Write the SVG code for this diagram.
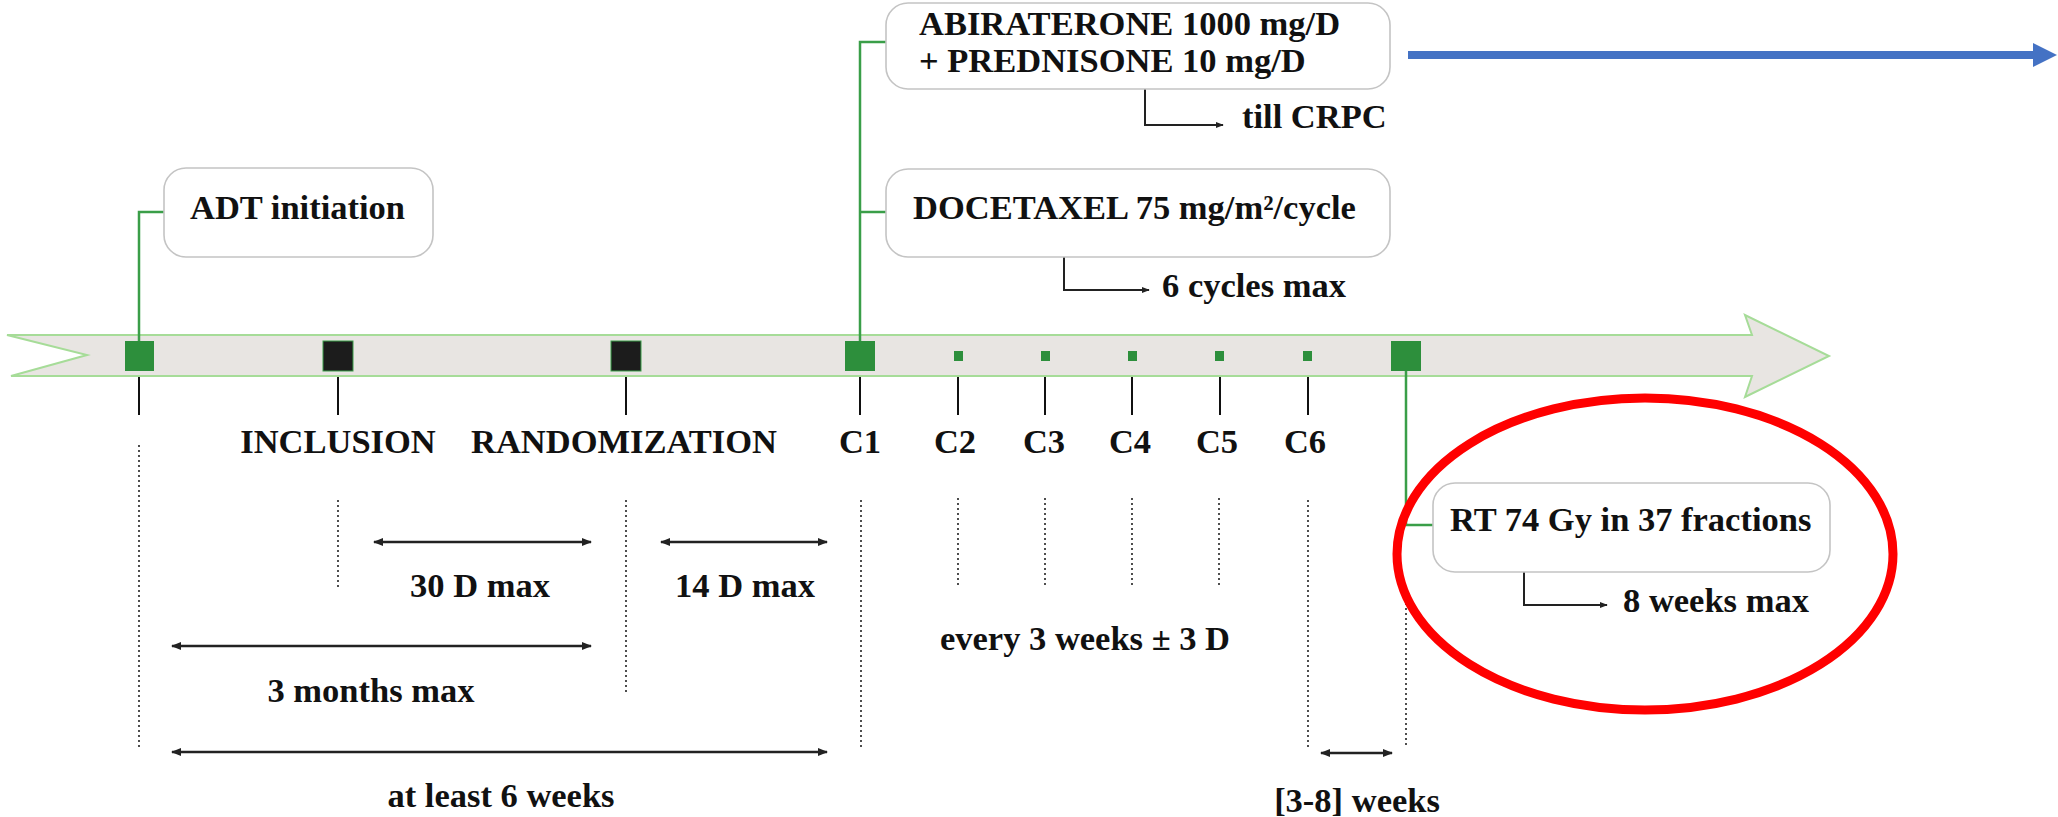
<svg xmlns="http://www.w3.org/2000/svg" width="2058" height="817" viewBox="0 0 2058 817">
<style>
.t{font-family:"Liberation Serif","Times New Roman",serif;font-weight:bold;font-size:34.5px;fill:#111}
.m{text-anchor:middle}
.box{fill:#fff;stroke:#c4c4c4;stroke-width:1.6}
.g{fill:none;stroke:#3a9e48;stroke-width:2.5}
.tick{stroke:#111;stroke-width:2}
.dot{stroke:#222;stroke-width:1.6;stroke-dasharray:2 3}
.dbl{stroke:#222;stroke-width:2.5;marker-start:url(#ah);marker-end:url(#ah)}
.lead{fill:none;stroke:#222;stroke-width:2;marker-end:url(#ah)}
.mk{fill:#2d8f3c}
.bk{fill:#1c1c1c;stroke:#3a9e48;stroke-width:1}
</style>
<defs>
<marker id="ah" viewBox="0 0 10 10" refX="9" refY="5" markerWidth="4" markerHeight="4" orient="auto-start-reverse" markerUnits="strokeWidth">
<path d="M0,1 L10,5 L0,9 z" fill="#222"/>
</marker>
</defs>
<rect width="2058" height="817" fill="#fff"/>

<g id="timeline">
<polygon points="7,335 1752,335 1745,315 1829,356 1745,397 1752,376 11,376 87,355" fill="#e8e5e2" stroke="#a6dc98" stroke-width="2"/>
<rect class="mk" x="125" y="341" width="29" height="30"/>
<rect class="bk" x="323" y="341" width="30" height="30"/>
<rect class="bk" x="611" y="341" width="30" height="30"/>
<rect class="mk" x="845" y="341" width="30" height="30"/>
<rect class="mk" x="954" y="351" width="9" height="10"/>
<rect class="mk" x="1041" y="351" width="9" height="10"/>
<rect class="mk" x="1128" y="351" width="9" height="10"/>
<rect class="mk" x="1215" y="351" width="9" height="10"/>
<rect class="mk" x="1303" y="351" width="9" height="10"/>
<rect class="mk" x="1391" y="341" width="30" height="30"/>
</g>

<g id="connectors">
<path class="g" d="M139 341 V212 H164"/>
<path class="g" d="M860 341 V42 H886 M860 212 H886"/>
<path class="g" d="M1406 371 V525 H1433"/>
<line class="tick" x1="139" y1="377" x2="139" y2="415"/>
<line class="tick" x1="338" y1="377" x2="338" y2="415"/>
<line class="tick" x1="626" y1="377" x2="626" y2="415"/>
<line class="tick" x1="860" y1="377" x2="860" y2="415"/>
<line class="tick" x1="958" y1="377" x2="958" y2="415"/>
<line class="tick" x1="1045" y1="377" x2="1045" y2="415"/>
<line class="tick" x1="1132" y1="377" x2="1132" y2="415"/>
<line class="tick" x1="1220" y1="377" x2="1220" y2="415"/>
<line class="tick" x1="1308" y1="377" x2="1308" y2="415"/>
<line class="dot" x1="139" y1="445" x2="139" y2="748"/>
<line class="dot" x1="338" y1="500" x2="338" y2="588"/>
<line class="dot" x1="626" y1="500" x2="626" y2="693"/>
<line class="dot" x1="861" y1="500" x2="861" y2="748"/>
<line class="dot" x1="958" y1="498" x2="958" y2="585"/>
<line class="dot" x1="1045" y1="498" x2="1045" y2="585"/>
<line class="dot" x1="1132" y1="498" x2="1132" y2="585"/>
<line class="dot" x1="1219" y1="498" x2="1219" y2="585"/>
<line class="dot" x1="1308" y1="500" x2="1308" y2="747"/>
<line class="dot" x1="1406" y1="598" x2="1406" y2="747"/>
<line class="dbl" x1="374" y1="542" x2="591" y2="542"/>
<line class="dbl" x1="661" y1="542" x2="827" y2="542"/>
<line class="dbl" x1="172" y1="646" x2="591" y2="646"/>
<line class="dbl" x1="172" y1="752" x2="827" y2="752"/>
<line class="dbl" x1="1321" y1="753" x2="1392" y2="753"/>
<path class="lead" d="M1145 89 V125 H1223"/>
<path class="lead" d="M1064 257 V290 H1149"/>
<path class="lead" d="M1524 572 V605 H1607"/>
<line x1="1408" y1="55" x2="2036" y2="55" stroke="#4472c4" stroke-width="8"/>
<polygon points="2033,43 2057,55 2033,67" fill="#4472c4"/>
</g>

<g id="adt">
<rect class="box" x="164" y="168" width="269" height="89" rx="22"/>
<text class="t" x="190" y="219">ADT initiation</text>
</g>
<g id="abiraterone">
<rect class="box" x="886" y="3" width="504" height="86" rx="22"/>
<text class="t" x="919" y="35">ABIRATERONE 1000 mg/D</text>
<text class="t" x="919" y="72">+ PREDNISONE 10 mg/D</text>
</g>
<g id="docetaxel">
<rect class="box" x="886" y="169" width="504" height="88" rx="22"/>
<text class="t" x="913" y="219">DOCETAXEL 75 mg/m²/cycle</text>
</g>
<g id="rt">
<rect class="box" x="1433" y="483" width="397" height="89" rx="22"/>
<text class="t" x="1450" y="531">RT 74 Gy in 37 fractions</text>
</g>

<g id="labels">
<text class="t" x="1242" y="128">till CRPC</text>
<text class="t" x="1162" y="297">6 cycles max</text>
<text class="t" x="1623" y="612">8 weeks max</text>
<text class="t m" x="338" y="453">INCLUSION</text>
<text class="t m" x="624" y="453">RANDOMIZATION</text>
<text class="t m" x="860" y="453">C1</text>
<text class="t m" x="955" y="453">C2</text>
<text class="t m" x="1044" y="453">C3</text>
<text class="t m" x="1130" y="453">C4</text>
<text class="t m" x="1217" y="453">C5</text>
<text class="t m" x="1305" y="453">C6</text>
<text class="t m" x="480" y="597">30 D max</text>
<text class="t m" x="745" y="597">14 D max</text>
<text class="t m" x="371" y="702">3 months max</text>
<text class="t m" x="501" y="807">at least 6 weeks</text>
<text class="t m" x="1085" y="650">every 3 weeks ± 3 D</text>
<text class="t m" x="1357" y="812">[3-8] weeks</text>
</g>

<ellipse id="highlight" cx="1645" cy="554" rx="248" ry="156" fill="none" stroke="#ff0000" stroke-width="9"/>
</svg>
